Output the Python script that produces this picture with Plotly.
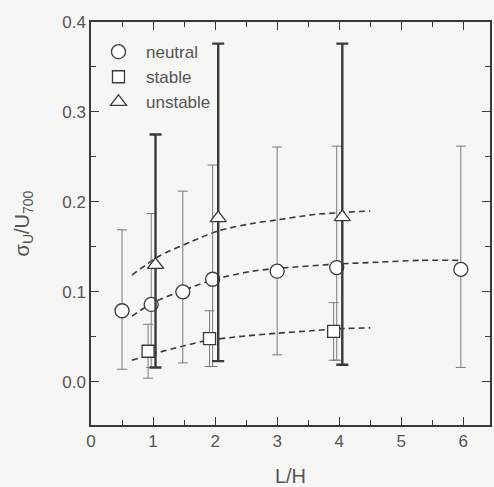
import plotly.graph_objects as go

# Turbulence intensity sigma_U / U_700 against L/H for three stability classes
neutral_x = [0.5, 0.97, 1.48, 1.96, 3.0, 3.96, 5.96]
neutral_y = [0.079, 0.086, 0.100, 0.114, 0.123, 0.127, 0.125]
neutral_hi = [0.169, 0.187, 0.212, 0.241, 0.261, 0.262, 0.262]
neutral_lo = [0.014, 0.016, 0.021, 0.017, 0.030, 0.024, 0.016]

stable_x = [0.92, 1.91, 3.91]
stable_y = [0.034, 0.048, 0.056]
stable_hi = [0.064, 0.079, 0.088]
stable_lo = [0.004, 0.017, 0.024]

unstable_x = [1.04, 2.05, 4.05]
unstable_y = [0.130, 0.182, 0.183]
unstable_hi = [0.275, 0.376, 0.376]
unstable_lo = [0.016, 0.023, 0.019]

# fitted trend curves (dashed)
neutral_fit_x = [0.66, 1.0, 1.5, 2.0, 2.6, 3.0, 4.0, 4.63, 5.3, 5.95]
neutral_fit_y = [0.073, 0.088, 0.102, 0.114, 0.123, 0.126, 0.131, 0.133, 0.135, 0.135]
stable_fit_x = [0.66, 1.0, 1.5, 1.88, 2.5, 3.0, 3.6, 4.0, 4.5]
stable_fit_y = [0.024, 0.031, 0.040, 0.046, 0.051, 0.054, 0.057, 0.059, 0.060]
unstable_fit_x = [0.66, 1.08, 1.62, 2.06, 2.6, 3.0, 3.6, 4.0, 4.5]
unstable_fit_y = [0.1185, 0.139, 0.156, 0.168, 0.176, 0.180, 0.186, 0.188, 0.190]

x_ticks = [0, 1, 2, 3, 4, 5, 6]
y_ticks = [0.0, 0.1, 0.2, 0.3, 0.4]
y_tick_text = ["0.0", "0.1", "0.2", "0.3", "0.4"]

INK = "#3a3a3a"
TEXT = "#555555"
BG = "#f6f6f4"
FONT = "Liberation Sans, Arial, sans-serif"


def err(y, hi, lo):
    plus = [h - v for h, v in zip(hi, y)]
    minus = [v - l for v, l in zip(y, lo)]
    return plus, minus


fig = go.Figure()

for fx, fy in [(neutral_fit_x, neutral_fit_y), (stable_fit_x, stable_fit_y),
               (unstable_fit_x, unstable_fit_y)]:
    fig.add_trace(go.Scatter(
        x=fx, y=fy, mode="lines", showlegend=False, hoverinfo="skip",
        line=dict(color=INK, width=1.6, dash="6px,4px", shape="spline", smoothing=0.8),
    ))

series = [
    ("neutral", neutral_x, neutral_y, neutral_hi, neutral_lo, "circle", 14, "#7a7a7a", 1.0, 5),
    ("stable", stable_x, stable_y, stable_hi, stable_lo, "square", 12, "#7a7a7a", 1.0, 5),
    ("unstable", unstable_x, unstable_y, unstable_hi, unstable_lo, "triangle-up", 14, INK, 2.4, 6),
]

for name, sx, sy, hi, lo, sym, size, ecol, ew, cap in series:
    plus, minus = err(sy, hi, lo)
    fig.add_trace(go.Scatter(
        x=sx, y=sy, mode="markers", name=name,
        legendgroup=name,
        marker=dict(symbol=sym, size=size, color="white",
                    line=dict(color=INK, width=1.3)),
        error_y=dict(type="data", symmetric=False, array=plus, arrayminus=minus,
                     color=ecol, thickness=ew, width=cap),
    ))

axis_common = dict(
    showline=True, linecolor=INK, linewidth=1.5, mirror="ticks",
    ticks="inside", ticklen=8, tickwidth=1.3, tickcolor=INK,
    showgrid=False, zeroline=False,
    tickfont=dict(family=FONT, size=17, color=TEXT),
)

fig.update_layout(
    width=494, height=487,
    margin=dict(l=91, r=2, t=22, b=62),
    paper_bgcolor=BG, plot_bgcolor=BG,
    font=dict(family=FONT, color=TEXT),
    showlegend=True,
    legend=dict(
        x=0.0, y=0.97, xanchor="left", yanchor="top",
        bgcolor="rgba(0,0,0,0)", borderwidth=0,
        font=dict(family=FONT, size=17, color=TEXT),
        traceorder="grouped", tracegroupgap=0, itemwidth=45,
    ),
    xaxis=dict(
        range=[0, 6.43], tickvals=x_ticks,
        minor=dict(dtick=0.5, tick0=0, ticks="inside", ticklen=5, tickcolor=INK, tickwidth=1.2),
        title=dict(text="L/H", font=dict(family=FONT, size=20, color=TEXT), standoff=20),
        **axis_common,
    ),
    yaxis=dict(
        range=[-0.048, 0.4], tickvals=y_ticks, ticktext=y_tick_text,
        minor=dict(dtick=0.05, tick0=0, ticks="inside", ticklen=5, tickcolor=INK, tickwidth=1.2),
        title=dict(text="σ<sub>U</sub>/U<sub>700</sub>",
                   font=dict(family=FONT, size=20, color=TEXT), standoff=27),
        **axis_common,
    ),
)

fig.write_html("out.html")
